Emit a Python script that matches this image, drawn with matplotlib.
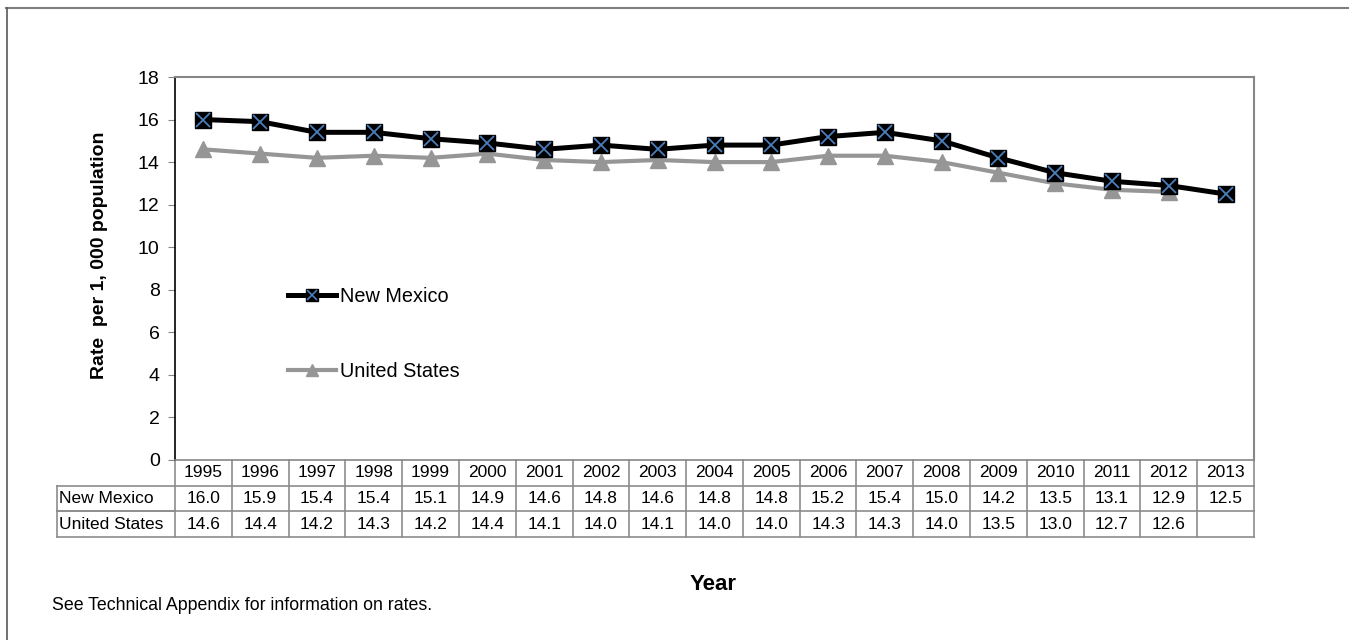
import numpy as np
import matplotlib
matplotlib.use('Agg')
import matplotlib.pyplot as plt
from matplotlib.lines import Line2D
from matplotlib.legend_handler import HandlerTuple

plt.rcParams['font.family'] = ['Liberation Sans', 'DejaVu Sans']

# Data
years = [1995, 1996, 1997, 1998, 1999, 2000, 2001, 2002, 2003, 2004,
         2005, 2006, 2007, 2008, 2009, 2010, 2011, 2012, 2013]
new_mexico = [16.0, 15.9, 15.4, 15.4, 15.1, 14.9, 14.6, 14.8, 14.6, 14.8,
              14.8, 15.2, 15.4, 15.0, 14.2, 13.5, 13.1, 12.9, 12.5]
united_states = [14.6, 14.4, 14.2, 14.3, 14.2, 14.4, 14.1, 14.0, 14.1, 14.0,
                 14.0, 14.3, 14.3, 14.0, 13.5, 13.0, 12.7, 12.6, None]
series_names = ['New Mexico', 'United States']
y_ticks = [0, 2, 4, 6, 8, 10, 12, 14, 16, 18]

W, H = 1349, 640
fig = plt.figure(figsize=(W / 100, H / 100), dpi=100)

# axes placed in pixel terms
left, right, top, bottom = 175, 1254, 77, 460
ax = fig.add_axes([left / W, 1 - bottom / H, (right - left) / W, (bottom - top) / H])

x = np.arange(len(years))
us = np.array([np.nan if v is None else v for v in united_states])

ax.plot(x, us, color='#969696', linewidth=3.0, marker='^', markersize=11.5,
        markerfacecolor='#969696', markeredgecolor='#969696', zorder=2)
ax.plot(x, new_mexico, color='black', linewidth=3.6, zorder=3)
ax.plot(x, new_mexico, linestyle='none', marker='s', markersize=11.5,
        markerfacecolor='black', markeredgecolor='black', zorder=4)
ax.plot(x, new_mexico, linestyle='none', marker='x', markersize=10.5,
        markeredgecolor='#4a7ebb', markeredgewidth=1.3, zorder=5)

ax.set_xlim(-0.5, len(years) - 0.5)
ax.set_ylim(0, 18)
ax.set_yticks(y_ticks)
ax.tick_params(axis='y', labelsize=14, length=5, color='#868686', pad=6)
ax.set_xticks([])

for s in ['top', 'right']:
    ax.spines[s].set_color('#868686')
    ax.spines[s].set_linewidth(1.5)
ax.spines['left'].set_color('black')
ax.spines['left'].set_linewidth(1.2)
ax.spines['bottom'].set_color('#868686')
ax.spines['bottom'].set_linewidth(1.2)

# legend
h_nm = (Line2D([], [], color='black', linewidth=3.6),
        Line2D([], [], linestyle='none', marker='s', markersize=8,
               markerfacecolor='black', markeredgecolor='black'),
        Line2D([], [], linestyle='none', marker='x', markersize=7,
               markeredgecolor='#4a7ebb', markeredgewidth=1.2))
h_us = Line2D([], [], color='#969696', linewidth=3.0, marker='^', markersize=8,
              markerfacecolor='#969696', markeredgecolor='#969696')
fig.legend([h_nm, h_us], series_names,
           handler_map={tuple: HandlerTuple(ndivide=1, pad=0)},
           loc='center left', bbox_to_anchor=(288 / W, 1 - 334 / H),
           frameon=False, fontsize=14.3, labelspacing=2.8, handlelength=2.4,
           handletextpad=0.2, borderpad=0, borderaxespad=0)

# data table under the axes
row_h = 25.7 / (bottom - top)
label_left = -0.5 - (left - 57) / ((right - left) / len(years))
tr = ax.get_xaxis_transform()
grid_c = '#8c8c8c'
rows = [[str(y) for y in years],
        ['%.1f' % v for v in new_mexico],
        ['' if v is None else '%.1f' % v for v in united_states]]
row_labels = ['', 'New Mexico', 'United States']
n = len(years)
for r in range(3):
    y0 = -row_h * (r + 1)
    y1 = -row_h * r
    xs = label_left if r > 0 else -0.5
    ax.plot([xs, n - 0.5], [y0, y0], color=grid_c, linewidth=1.2,
            transform=tr, clip_on=False)
    if r > 0:
        ax.plot([xs, -0.5], [y1, y1], color=grid_c, linewidth=1.2,
                transform=tr, clip_on=False)
        ax.plot([xs, xs], [y0, y1], color=grid_c, linewidth=1.2,
                transform=tr, clip_on=False)
        ax.text(label_left + 0.04, (y0 + y1) / 2, row_labels[r], transform=tr,
                ha='left', va='center', fontsize=12.5)
    for i in range(n + 1):
        ax.plot([i - 0.5, i - 0.5], [y0, y1], color=grid_c, linewidth=1.2,
                transform=tr, clip_on=False)
    for i in range(n):
        ax.text(i, (y0 + y1) / 2, rows[r][i], transform=tr,
                ha='center', va='center', fontsize=12.5)

# titles and notes
fig.text(99 / W, 1 - 255 / H, 'Rate  per 1, 000 population', rotation=90,
         ha='center', va='center', fontsize=14, fontweight='bold')
fig.text(713 / W, 1 - 585 / H, 'Year', ha='center', va='center',
         fontsize=16, fontweight='bold')
fig.text(52 / W, 1 - 606 / H, 'See Technical Appendix for information on rates.',
         ha='left', va='center', fontsize=12.8)

# outer frame (top and left only visible)
fig.add_artist(Line2D([6 / W, 1], [1 - 7.5 / H, 1 - 7.5 / H], color='#7f7f7f',
                      linewidth=1.5, transform=fig.transFigure))
fig.add_artist(Line2D([6.5 / W, 6.5 / W], [0, 1 - 7.5 / H], color='#595959',
                      linewidth=1.2, transform=fig.transFigure))

fig.savefig('out.png', dpi=100)
